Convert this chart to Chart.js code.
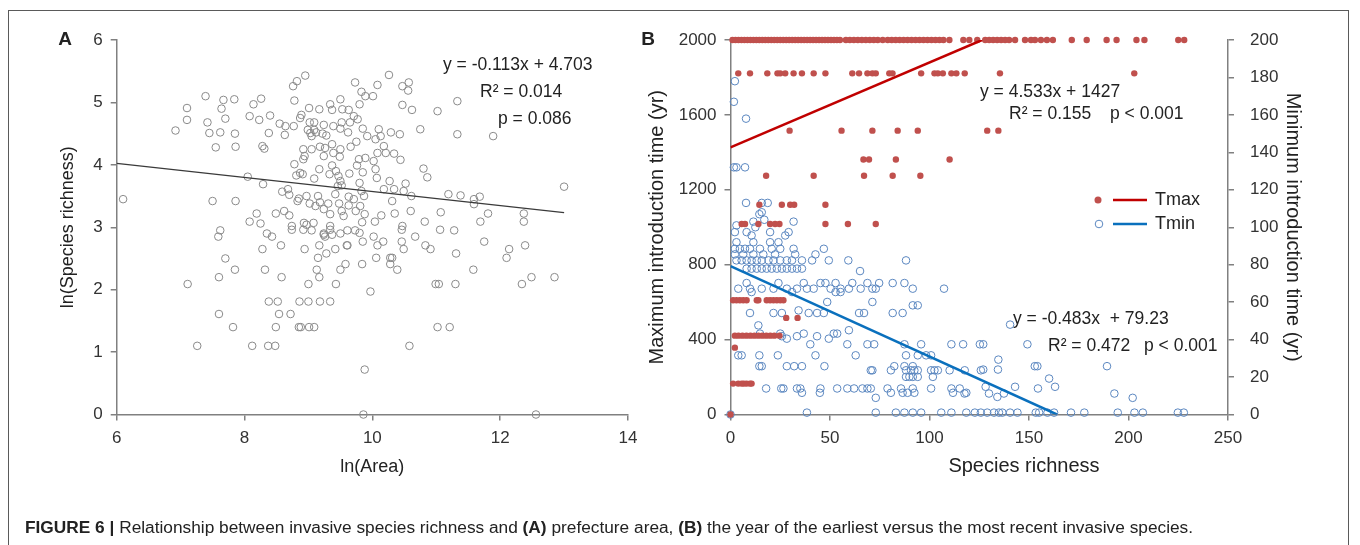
<!DOCTYPE html>
<html>
<head>
<meta charset="utf-8">
<script src="https://cdn.jsdelivr.net/npm/chart.js@4.4.1/dist/chart.umd.min.js"></script>
<style>
  html, body { margin: 0; padding: 0; background: #fff; }
  #wrap { position: relative; width: 1360px; height: 545px; overflow: hidden; font-family: "Liberation Sans", Arial, sans-serif; }
  #frame { position: absolute; left: 8px; top: 10px; width: 1341px; height: 560px; border: 1.5px solid #5a5a5a; box-sizing: border-box; }
  canvas { position: absolute; left: 0; top: 0; }
  #caption { position: absolute; left: 25px; top: 517px; font-size: 17.3px; line-height: 20px; color: #222; white-space: nowrap; }
</style>
</head>
<body>
<div id="wrap">
  <div id="frame"></div>
  <canvas id="panelA" width="1360" height="545"></canvas>
  <canvas id="panelB" width="1360" height="545"></canvas>
  <div id="caption"><b>FIGURE 6 |</b> Relationship between invasive species richness and <b>(A)</b> prefecture area, <b>(B)</b> the year of the earliest versus the most recent invasive species.</div>
</div>
<script>
// ---- panel A: ln(Area) vs ln(Species richness) ----
const areaRichness = [
  [7.11,2.09],[7.26,1.10],[7.59,2.85],[7.60,2.20],[7.60,1.61],[7.70,2.50],[7.82,1.40],[7.85,2.32],
  [8.12,1.10],[8.28,2.65],[8.32,2.32],[8.35,2.90],[8.43,2.85],[8.37,1.10],[8.48,1.10],[8.38,1.81],
  [8.52,1.81],[8.54,1.61],[8.49,1.40],[8.57,2.71],[8.58,2.20],[8.72,1.61],[8.74,2.96],[8.86,1.81],
  [8.85,1.40],[8.88,1.40],[9.01,1.40],[9.09,1.40],[9.00,1.81],[9.18,1.81],[9.34,1.81],[9.00,2.09],
  [8.94,2.65],[8.92,2.96],[9.05,2.95],[9.17,2.20],[9.13,2.32],[9.15,2.51],[9.17,2.71],[9.24,2.90],
  [9.26,2.85],[9.28,2.58],[9.34,2.96],[9.43,2.09],[9.42,2.65],[9.50,2.32],[9.50,2.90],[9.58,2.41],
  [9.60,2.71],[9.61,2.71],[9.61,2.95],[9.73,2.95],[9.80,2.91],[9.84,2.41],[9.85,2.77],[9.88,0.72],
  [9.86,0.0],[9.97,1.97],[10.02,2.85],[10.06,2.51],[10.08,2.71],[10.17,2.77],[10.28,2.51],[10.31,2.51],
  [10.28,2.41],[10.39,2.32],[10.46,2.77],[10.49,2.65],[10.46,2.96],[10.58,1.10],[10.67,2.85],[10.83,2.71],
  [10.91,2.65],[10.99,2.09],[11.04,2.09],[11.02,1.40],[11.21,1.40],[11.06,2.96],[11.28,2.95],[11.31,2.58],
  [11.30,2.09],[11.58,2.32],[11.75,2.77],[12.10,2.51],[12.14,2.65],[12.34,2.09],[12.39,2.71],[12.49,2.20],
  [12.56,0.0],[12.85,2.20],
  [6.10,3.45],[6.92,4.55],[7.10,4.72],[7.10,4.91],[7.39,5.10],[7.42,4.68],[7.45,4.51],[7.55,4.28],
  [7.62,4.52],[7.64,4.90],[7.67,5.04],[7.70,4.74],[7.84,5.05],[7.85,4.50],[7.86,4.29],[7.50,3.42],
  [7.86,3.42],[7.62,2.95],[8.05,3.81],[8.08,4.78],[8.14,4.97],[8.23,4.72],[8.26,5.06],[8.28,4.30],
  [8.31,4.26],[8.29,3.69],[8.08,3.09],[8.19,3.22],[8.25,3.06],[8.40,4.79],[8.38,4.51],[8.55,4.66],
  [8.63,4.48],[8.64,4.62],[8.77,4.62],[8.78,5.03],[8.76,5.26],[8.82,5.34],[8.95,5.43],[8.78,4.01],
  [8.81,3.83],[8.87,3.87],[8.91,3.85],[9.09,3.78],[9.17,3.93],[8.49,3.22],[8.59,3.57],[8.62,3.26],
  [8.68,3.61],[8.70,3.19],[8.70,3.52],[8.74,3.02],[8.83,3.42],[8.85,3.46],[8.97,3.50],[8.97,3.04],
  [9.01,4.91],[8.87,4.75],[8.89,4.80],[9.02,4.68],[8.99,4.56],[9.03,4.51],[9.09,4.68],[9.17,4.89],
  [9.05,4.46],[9.09,4.56],[9.12,4.52],[9.22,4.50],[9.28,4.47],[9.24,4.64],[9.34,4.97],[9.37,4.88],
  [9.39,4.62],[9.50,5.05],[9.53,4.89],[9.52,4.68],[9.50,4.58],[9.63,4.88],[9.62,4.52],[9.65,4.68],
  [9.73,5.32],[9.83,5.17],[9.89,5.10],[9.80,4.97],[9.71,4.78],[9.77,4.73],[9.85,4.58],[9.92,4.46],
  [8.92,4.25],[8.94,4.14],[8.92,4.09],[9.05,4.25],[9.18,4.29],[9.26,4.27],[9.37,4.33],[9.24,4.14],
  [9.39,4.19],[9.49,4.13],[9.50,4.25],[9.66,4.29],[9.75,4.37],[9.79,4.09],[9.89,4.11],[9.37,3.99],
  [9.43,3.90],[9.33,3.85],[9.47,3.82],[9.50,3.74],[9.46,3.66],[9.52,3.67],[9.64,3.86],[9.76,3.99],
  [9.85,3.88],[9.80,3.71],[9.83,3.58],[9.15,3.50],[9.02,3.38],[9.11,3.34],[9.18,3.40],[9.24,3.29],
  [9.31,3.38],[9.34,3.21],[9.42,3.53],[9.48,3.38],[9.52,3.26],[9.55,3.18],[9.63,3.49],[9.71,3.45],
  [9.63,3.35],[9.74,3.26],[9.81,3.34],[9.87,3.50],[9.88,3.21],[9.34,3.02],[9.24,2.88],[9.37,2.88],
  [9.84,3.08],[9.08,3.07],[8.93,3.07],
  [10.26,5.44],[10.08,5.28],[10.47,5.26],[10.57,5.32],[10.56,5.19],[10.47,4.96],[10.62,4.88],[11.02,4.86],
  [11.33,5.02],[10.01,5.10],[10.75,4.57],[11.33,4.49],[11.89,4.46],[10.10,4.57],[10.13,4.46],[10.29,4.52],
  [10.43,4.49],[10.18,4.30],[10.05,4.41],[10.08,4.19],[10.21,4.19],[10.34,4.18],[10.44,4.08],[10.02,4.06],
  [10.05,3.93],[10.80,3.94],[10.86,3.80],[10.07,3.79],[10.27,3.74],[10.52,3.70],[10.18,3.61],[10.34,3.61],
  [10.49,3.58],[10.61,3.50],[10.31,3.42],[11.19,3.53],[11.38,3.51],[11.59,3.45],[11.68,3.49],[11.59,3.37],
  [13.00,3.65],[12.37,3.22],[12.37,3.09],[11.81,3.22],[11.07,3.24],[11.69,3.09],[10.82,3.09],[10.60,3.26],
  [10.47,3.02],[10.35,3.22],[10.14,3.19],[10.04,3.09]
];
const fitA = { slope: -0.113, intercept: 4.703, from: 6, to: 13 };

// ---- panel B: species richness vs introduction time ----
// Tmax dots grouped by their year level (left axis)
const tmaxYears = [2000, 1822, 1516, 1362, 1275, 1120, 1017, 610, 516, 421, 357, 165, 0];
const tmaxRichness = [
  [1,2.5,4,5.5,7,8.5,10,11.5,13,14.5,16,17.5,19,20.5,22,23.5,25,26.5,28,29.5,31,32.5,34,35.5,37,38.5,40,
   41.5,43,44.5,46,47.5,49,50.5,52,53.5,55,58,60,62,64,66,68,70,72,74,76.5,79,81,83,85,87,89,91,93,95,97,
   99,101,103,105,107,110,117,120,124,128,130,132,134,136,138,140,143,148,151,153,156,159,162,171.5,179,
   189,194,204,208,225,228],
  [3.9,9.8,18.5,23.6,25,27.5,31.7,35.9,41.8,47.7,61.2,64.6,68.8,71.3,73,79.8,81.4,95.8,102.5,104.2,106.7,
   111,113.5,117.7,135.4,202.9],
  [29.7,55.8,71.3,84,94.1,129,134.6],
  [66.8,69.6,83.1,110.1],
  [17.9,41.8,67.1,81.5,95.4],
  [14.5,25.8,30,32,47.7],
  [5.6,7.3,14,19.9,22.4,24.6,47.7,59,73],
  [1.3,3,4.7,6.4,8.1,13.2,14,18.2,19.9,21.6,23.3,25,26.6],
  [28,33.7],
  [2.2,4,6,8,10,12,14,16,18,20,22,24.6],
  [2.2],
  [1.3,3.9,5.6,6.7,8.1,9.8,10.6],
  [0]
];
// Tmin circles (right axis), [richness, years]
const tminPts = [
  [2.2,178],[1.7,167],[7.8,158],[1.7,132],[3.0,132],[7.3,132],[7.8,113],[15.7,113],[18.7,113],
  [14.5,107],[15.7,108],[11.5,103],[31.7,103],[3.0,101],[12.5,100],[17.0,104],
  [2.2,97.4],[8.1,97.4],[19.9,97.4],[29.2,97.4],[10.6,95.6],[27.5,95.6],
  [3.0,92],[11.5,92],[19.9,92],[24.1,92],
  [2.2,88.5],[4.7,88.5],[7.3,88.5],[9.8,88.5],[14.8,88.5],[20.7,88.5],[25.0,88.5],[31.7,88.5],[46.9,88.5],
  [2.2,85.5],[6.4,85.5],[11.5,85.5],[16.5,85.5],[22.4,85.5],[32.5,85.5],[42.7,85.5],
  [3.0,82.3],[5.6,82.3],[8.1,82.3],[10.6,82.3],[13.2,82.3],[15.7,82.3],[19.1,82.3],[21.6,82.3],[25.0,82.3],
  [28.3,82.3],[30.9,82.3],[35.9,82.3],[41.0,82.3],[49.4,82.3],[59.2,82.3],[88.2,82.3],
  [8.1,77.9],[10.6,77.9],[13.2,77.9],[15.7,77.9],[18.2,77.9],[20.7,77.9],[23.3,77.9],[25.8,77.9],[28.3,77.9],
  [30.9,77.9],[33.4,77.9],[35.9,77.9],[65.1,76.6],
  [8.1,70.2],[24.1,70.2],[36.8,70.2],[45.2,70.2],[47.7,70.2],[52.8,70.2],[61.2,70.2],[68.8,70.2],[74.7,70.2],
  [81.5,70.2],[87.4,70.2],
  [3.9,67.2],[9.8,67.2],[15.7,67.2],[21.6,67.2],[28.3,67.2],[33.4,67.2],[38.4,67.2],[41.8,67.2],[50.3,67.2],
  [55.3,67.2],[59.5,67.2],[65.4,67.2],[71.3,67.2],[73.0,67.2],[91.6,67.2],[107.3,67.2],
  [10.6,65.4],[30.9,65.4],[52.8,65.4],[55.3,65.4],[48.6,60.1],[71.3,60.1],[91.6,58.3],[94.1,58.3],[34.2,55.6],
  [9.8,54.2],[21.6,54.2],[25.8,54.2],[39.3,54.2],[43.5,54.2],[46.9,54.2],[64.6,54.2],[67.1,54.2],[81.5,54.2],
  [86.5,54.2],[14.0,47.6],[59.5,45],[140.5,48],
  [14.8,43.2],[25.0,43.2],[36.8,43.2],[51.9,43.2],[53.6,43.2],[25.8,41.8],[33.4,41.8],[43.5,41.8],
  [28.3,40.5],[49.4,40.5],
  [40.1,37.5],[58.7,37.5],[68.8,37.5],[72.2,37.5],[87.4,37.5],[95.8,37.5],[111.0,37.5],[116.9,37.5],
  [125.3,37.5],[127,37.5],[149.2,37.5],
  [3.9,31.6],[5.6,31.6],[14.5,31.6],[23.8,31.6],[42.7,31.6],[62.9,31.6],[88.2,31.6],[94.1,31.6],[98.3,31.6],
  [100.8,31.6],[134.6,29.3],
  [14.5,25.8],[15.7,25.8],[28.3,25.8],[32.0,25.8],[35.9,25.8],[47.2,25.8],[82.3,25.8],[87.4,25.8],[91.6,25.8],
  [152.9,25.8],[154.2,25.8],[189.2,25.8],
  [70.5,23.6],[71.3,23.6],[80.6,23.6],[88.2,23.6],[90.7,23.6],[92.4,23.6],[94.1,23.6],[100.8,23.6],
  [102.5,23.6],[104.2,23.6],[110.1,23.6],[117.7,23.6],[125.8,23.6],[127,24],[134.4,24],
  [88.2,20.1],[89.9,20.1],[91.6,20.1],[94.1,20.1],[101.7,20.1],[160.1,19.2],
  [17.9,13.9],[25.5,13.9],[26.6,13.9],[33.4,13.9],[35.1,13.9],[45.2,13.9],[53.6,13.9],[58.7,13.9],[62.1,13.9],
  [66.3,13.9],[68.8,13.9],[70.5,13.9],[78.9,13.9],[85.7,13.9],[91.6,13.9],[100.8,13.9],[111.0,13.9],
  [115.2,13.9],[128.2,14.8],[143,14.8],[163.1,14.8],[154.5,13.9],
  [35.9,11.6],[44.9,11.6],[80.6,11.6],[86.5,11.6],[89.0,11.6],[92.4,11.6],[111.8,11.6],[118.5,11.6],
  [117.6,11.2],[129.9,11.2],[137.4,11.2],[192.9,11.2],[134.1,9.4],[73.0,8.9],[202.1,8.9],
  [0,0],[38.4,1],[73.0,1],[83.1,1],[87.4,1],[91.6,1],[95.8,1],[105.9,1],[111.0,1],[118.5,1],[122.8,1],
  [125.8,1],[129,1],[132.4,1],[134.9,1],[136.6,1],[140.5,1],[144.2,1],[153.4,1],[155.1,1],[159.3,1],
  [162.6,1],[171.1,1],[177.8,1],[194.6,1],[203,1],[207.2,1],[224.8,1],[227.8,1]
];
const fitTmax = { slope: 4.533, intercept: 1427 };
const fitTmin = { slope: -0.483, intercept: 79.23 };

const FONT = '"Liberation Sans", Arial, sans-serif';
Chart.defaults.font.family = FONT;
Chart.defaults.color = '#333';

function toXY(pairs) {
  return pairs.map(function(p) { return { x: p[0], y: p[1] }; });
}

function axis(min, max, step, width, extra, pad) {
  let opt = {
    type: 'linear',
    min: min,
    max: max,
    ticks: { stepSize: step, font: { size: 17 }, color: '#333', padding: pad || 8,
             callback: function(v) { return String(v); } },
    grid: { drawOnChartArea: false, drawTicks: true, tickLength: 6, color: '#808080', lineWidth: 1.5 },
    border: { display: true, color: '#808080', width: 1.5 },
    afterFit: function(scale) {
      if (scale.isHorizontal()) { scale.height = width; } else { scale.width = width; }
    }
  };
  return Object.assign(opt, extra || {});
}

function text(ctx, str, x, y, font, align) {
  ctx.save();
  ctx.font = font;
  ctx.fillStyle = '#222';
  ctx.textAlign = align || 'left';
  ctx.textBaseline = 'middle';
  ctx.fillText(str, x, y);
  ctx.restore();
}

// ---- chart A ----
let lineA = [fitA.from, fitA.to].map(function(x) { return { x: x, y: fitA.slope * x + fitA.intercept }; });

new Chart(document.getElementById('panelA'), {
  type: 'scatter',
  data: {
    datasets: [
      { data: lineA, showLine: true, pointRadius: 0, borderColor: '#3a3a3a', borderWidth: 1.3 },
      { data: toXY(areaRichness), pointRadius: 3.8, pointBorderWidth: 1,
        borderColor: '#8a8a8a', backgroundColor: 'rgba(0,0,0,0)', clip: false }
    ]
  },
  options: {
    responsive: false,
    animation: false,
    events: [],
    layout: { padding: { left: 50, top: 40, right: 732, bottom: 60.5 } },
    plugins: { legend: { display: false }, tooltip: { enabled: false } },
    scales: {
      x: axis(6, 14, 2, 70, { title: { display: true, text: 'ln(Area)', font: { size: 18 }, color: '#222',
                                       padding: { top: 4, bottom: 6.5 } } }),
      y: axis(0, 6, 1, 66.7, { title: { display: true, text: 'ln(Species richness)', font: { size: 18 }, color: '#222',
                                        padding: { top: 7, bottom: 4 } } })
    }
  },
  plugins: [{
    id: 'notesA',
    afterDraw: function(chart) {
      let ctx = chart.ctx;
      text(ctx, 'A', 65, 40, 'bold 19px ' + FONT, 'center');
      text(ctx, 'y = -0.113x + 4.703', 443, 65, '17.5px ' + FONT);
      text(ctx, 'R² = 0.014', 480, 92, '17.5px ' + FONT);
      text(ctx, 'p = 0.086', 498, 119, '17.5px ' + FONT);
    }
  }]
});

// ---- chart B ----
let tmaxData = [];
tmaxYears.forEach(function(yr, i) {
  tmaxRichness[i].forEach(function(r) { tmaxData.push({ x: r, y: yr }); });
});
let tmaxEnd = (2000 - fitTmax.intercept) / fitTmax.slope;
let tminEnd = -fitTmin.intercept / fitTmin.slope;
let lineTmax = [0, tmaxEnd].map(function(x) { return { x: x, y: fitTmax.slope * x + fitTmax.intercept }; });
let lineTmin = [0, tminEnd].map(function(x) { return { x: x, y: fitTmin.slope * x + fitTmin.intercept }; });

const RED_DOT = '#c0504d', RED_LINE = '#c00000', BLUE_DOT = '#5b87c0', BLUE_LINE = '#0a70bd';

new Chart(document.getElementById('panelB'), {
  type: 'scatter',
  data: {
    datasets: [
      { label: 'Tmax fit', data: lineTmax, showLine: true, pointRadius: 0, borderColor: RED_LINE, borderWidth: 2.5, yAxisID: 'y' },
      { label: 'Tmin fit', data: lineTmin, showLine: true, pointRadius: 0, borderColor: BLUE_LINE, borderWidth: 2.5, yAxisID: 'y2' },
      { label: 'Tmax', data: tmaxData, pointRadius: 3.2, pointBorderWidth: 0,
        backgroundColor: RED_DOT, borderColor: RED_DOT, yAxisID: 'y', clip: false },
      { label: 'Tmin', data: toXY(tminPts), pointRadius: 3.8, pointBorderWidth: 1,
        borderColor: BLUE_DOT, backgroundColor: 'rgba(0,0,0,0)', yAxisID: 'y2', clip: false }
    ]
  },
  options: {
    responsive: false,
    animation: false,
    events: [],
    layout: { padding: { left: 640, top: 40, right: 40, bottom: 60.5 } },
    plugins: { legend: { display: false }, tooltip: { enabled: false } },
    scales: {
      x: axis(0, 250, 50, 70),
      y: axis(0, 2000, 400, 90.5, { position: 'left',
           title: { display: true, text: 'Maximum introduction time (yr)', font: { size: 20 }, color: '#222',
                    padding: { top: 5, bottom: 4 } } }),
      y2: axis(0, 200, 20, 92, { position: 'right',
           title: { display: true, text: 'Minimum introduction time (yr)', font: { size: 20 }, color: '#222',
                    padding: { top: 15, bottom: 4 } } }, 16)
    }
  },
  plugins: [{
    id: 'notesB',
    afterDraw: function(chart) {
      let ctx = chart.ctx;
      text(ctx, 'B', 648, 40, 'bold 19px ' + FONT, 'center');
      text(ctx, 'Species richness', 1024, 466, '20px ' + FONT, 'center');
      text(ctx, 'y = 4.533x + 1427', 980, 92, '17.5px ' + FONT);
      text(ctx, 'R² = 0.155', 1009, 114, '17.5px ' + FONT);
      text(ctx, 'p < 0.001', 1110, 114, '17.5px ' + FONT);
      text(ctx, 'y = -0.483x  + 79.23', 1013, 319, '17.5px ' + FONT);
      text(ctx, 'R² = 0.472', 1048, 346, '17.5px ' + FONT);
      text(ctx, 'p < 0.001', 1144, 346, '17.5px ' + FONT);
      // legend: marker + line sample + label
      ctx.save();
      ctx.fillStyle = RED_DOT;
      ctx.beginPath(); ctx.arc(1098, 200, 3.5, 0, Math.PI * 2); ctx.fill();
      ctx.strokeStyle = RED_LINE; ctx.lineWidth = 2.5;
      ctx.beginPath(); ctx.moveTo(1113, 200); ctx.lineTo(1147, 200); ctx.stroke();
      ctx.strokeStyle = BLUE_DOT; ctx.lineWidth = 1;
      ctx.beginPath(); ctx.arc(1099, 224, 3.8, 0, Math.PI * 2); ctx.stroke();
      ctx.strokeStyle = BLUE_LINE; ctx.lineWidth = 2.5;
      ctx.beginPath(); ctx.moveTo(1113, 224); ctx.lineTo(1147, 224); ctx.stroke();
      ctx.restore();
      text(ctx, 'Tmax', 1155, 200, '18px ' + FONT);
      text(ctx, 'Tmin', 1155, 224, '18px ' + FONT);
    }
  }]
});
</script>
</body>
</html>
